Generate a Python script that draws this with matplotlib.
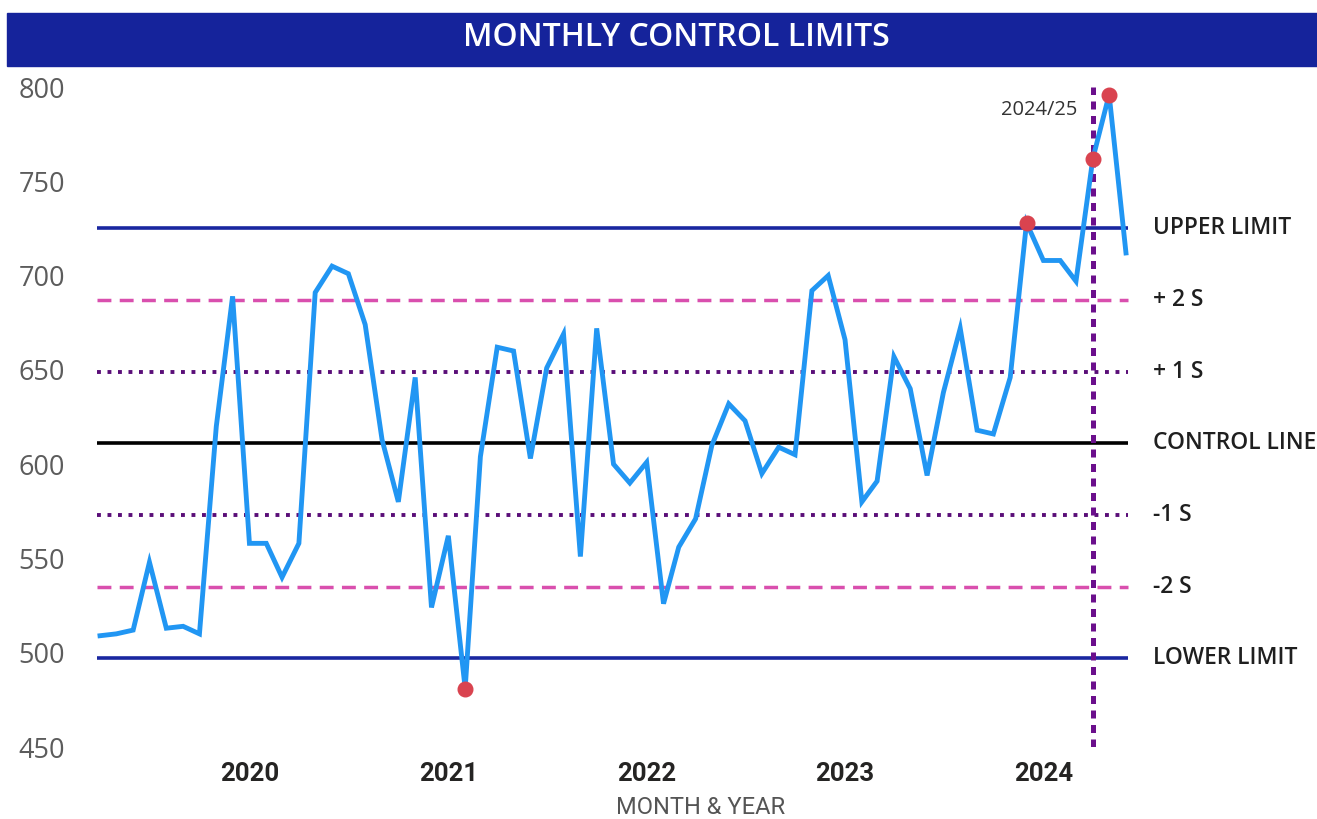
import numpy as np
import pandas as pd
import matplotlib
matplotlib.use("Agg")
import matplotlib.pyplot as plt
import matplotlib.dates as mdates
from matplotlib.patches import Rectangle
from matplotlib.transforms import blended_transform_factory

# monthly values, April 2019 .. June 2024
start_month = "2019-04-01"
values = [509, 510, 512, 548, 513, 514, 510, 620, 689, 558,
          558, 540, 558, 691, 705, 701, 674, 613, 580, 646,
          524, 562, 481, 604, 662, 660, 603, 651, 669, 551,
          672, 600, 590, 601, 526, 556, 571, 610, 632, 623,
          595, 609, 605, 692, 700, 666, 580, 591, 657, 640,
          594, 638, 672, 618, 616, 646, 728, 708, 708, 697,
          762, 796, 712]

limit_names = ["UPPER LIMIT", "+ 2 S", "+ 1 S", "CONTROL LINE", "-1 S", "-2 S", "LOWER LIMIT"]
limit_values = [725, 687, 649, 611, 573, 535, 497]

marker_date = "2024-04-01"
marker_label = "2024/25"
y_ticks = [450, 500, 550, 600, 650, 700, 750, 800]

title = "MONTHLY CONTROL LIMITS"
x_title = "MONTH & YEAR"

dates = pd.date_range(start_month, periods=len(values), freq="MS")
vals = np.array(values)

# line styles for the limits (same order as limit_names)
limit_styles = [
    dict(color="#1A27A0", lw=2.6, ls="-"),
    dict(color="#D94FAE", lw=2.5, ls=(0, (4, 2.4))),
    dict(color="#5A0E78", lw=2.8, ls=(0, (1.0, 1.7))),
    dict(color="#000000", lw=2.6, ls="-"),
    dict(color="#5A0E78", lw=2.8, ls=(0, (1.0, 1.7))),
    dict(color="#D94FAE", lw=2.5, ls=(0, (4, 2.4))),
    dict(color="#1A27A0", lw=2.6, ls="-"),
]

W, H = 1317, 819
fig = plt.figure(figsize=(W / 100, H / 100), dpi=100)
fig.patch.set_facecolor("white")

# title bar
fig.patches.append(Rectangle((7 / W, 1 - 66 / H), 1 - 7 / W, 53 / H,
                             transform=fig.transFigure, color="#15239B", zorder=0))
fig.text(676 / W, 1 - 38 / H, title, color="white", fontsize=23,
         family="Open Sans", fontweight=600, ha="center", va="center")

ax = fig.add_axes([90 / W, 1 - 747 / H, (1135 - 90) / W, (747 - 87) / H])
ax.set_ylim(450, 800)
ax.set_xlim(dates[0] - pd.Timedelta(days=18.4), dates[-1] + pd.Timedelta(days=16.6))

x0 = dates[0] - pd.Timedelta(days=5)
x1 = dates[-1] + pd.Timedelta(days=3)
for v, st in zip(limit_values, limit_styles):
    ax.hlines(v, x0, x1, colors=st["color"], linewidth=st["lw"], linestyles=st["ls"], zorder=2)

trans = blended_transform_factory(ax.transAxes, ax.transData)
for name, v in zip(limit_names, limit_values):
    ax.text(1.0172, v, name, transform=trans, fontsize=16.4, family="Open Sans",
            fontweight=600, color="#1f1f1f", ha="left", va="center", clip_on=False)

ax.plot(dates, vals, color="#2196F3", lw=3.5, zorder=4, solid_joinstyle="miter")

out = (vals > limit_values[0]) | (vals < limit_values[-1])
ax.plot(dates[out], vals[out], "o", color="#D9434F", ms=10.5, zorder=5)

vx = pd.Timestamp(marker_date)
ax.axvline(vx, color="#6B0F8C", lw=3.6, ls=(0, (1.6, 1.3)), zorder=3)
ax.annotate(marker_label, xy=(vx, 1), xycoords=("data", "axes fraction"),
            xytext=(-15, -23), textcoords="offset pixels", ha="right", va="center",
            fontsize=14.5, family="Open Sans", color="#333333")

for s in ax.spines.values():
    s.set_visible(False)

ax.set_yticks(y_ticks)
ax.set_yticklabels([str(t) for t in y_ticks])
ax.tick_params(axis="y", length=0, pad=18, labelsize=19.5, labelcolor="#5C5C5C")
for lab in ax.get_yticklabels():
    lab.set_family("Open Sans")
    lab.set_fontweight(500)

ax.xaxis.set_major_locator(mdates.YearLocator())
ax.xaxis.set_major_formatter(mdates.DateFormatter("%Y"))
ax.tick_params(axis="x", length=0, pad=11, labelsize=18.5, labelcolor="#252423")
for lab in ax.get_xticklabels():
    lab.set_family("Roboto")
    lab.set_fontweight("bold")

fig.text(701 / W, 1 - 807 / H, x_title, fontsize=17, family="Roboto",
         color="#555555", ha="center", va="center")

fig.savefig("out.png", dpi=100)
